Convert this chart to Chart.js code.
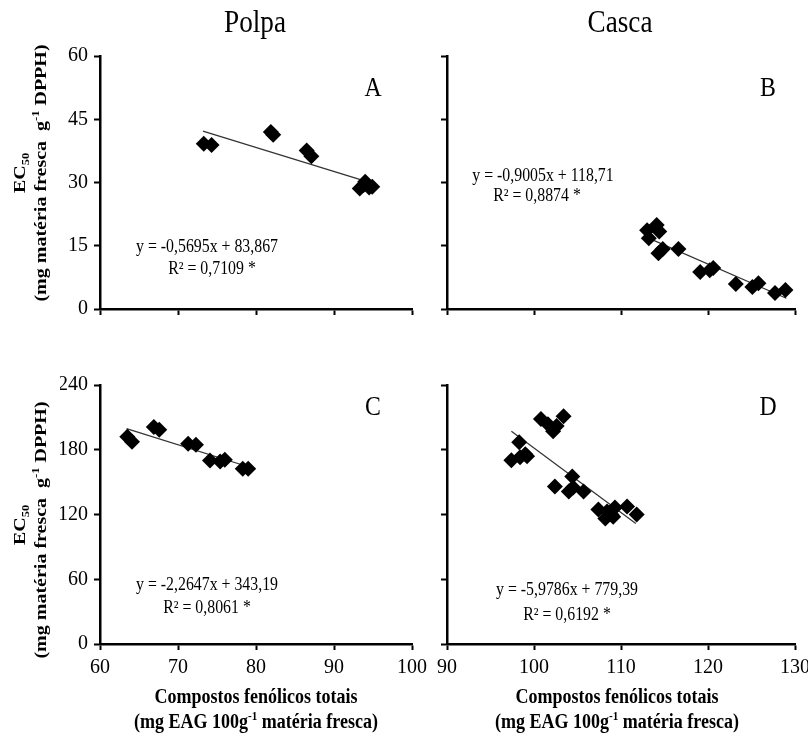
<!DOCTYPE html>
<html>
<head>
<meta charset="utf-8">
<script src="https://cdn.jsdelivr.net/npm/chart.js@4.4.0/dist/chart.umd.min.js"></script>
<style>
  html, body { margin: 0; padding: 0; background: #fff; overflow: hidden; }
  #wrap { position: relative; width: 808px; height: 741px; overflow: hidden; }
  #wrap canvas { position: absolute; left: 0; top: 0; }
</style>
</head>
<body>
<div id="wrap">
  <canvas id="chart-a" width="840" height="741"></canvas>
  <canvas id="chart-b" width="840" height="741"></canvas>
  <canvas id="chart-c" width="840" height="741"></canvas>
  <canvas id="chart-d" width="840" height="741"></canvas>
</div>
<script>
// --- Eixos ---
const polpaXTicks = [60, 70, 80, 90, 100];
const cascaXTicks = [90, 100, 110, 120, 130];
const topYTicks = [0, 15, 30, 45, 60];
const bottomYTicks = [0, 60, 120, 180, 240];

// --- A: Polpa (EC50 0-60) ---
const polpaAX = [73.3, 74.3, 81.9, 82.2, 86.5, 87.1, 93.3, 93.8, 94.0, 94.5, 94.9];
const polpaAY = [39.2, 38.9, 42.0, 41.3, 37.6, 36.2, 28.6, 29.4, 30.2, 28.8, 29.0];

// --- B: Casca (EC50 0-60) ---
const cascaBX = [113.0, 113.2, 114.1, 114.4, 114.3, 114.8, 116.6, 119.1, 120.2, 120.6, 123.2, 125.1, 125.8, 127.7, 128.9];
const cascaBY = [18.7, 16.8, 19.9, 18.4, 13.2, 14.2, 14.2, 8.8, 9.2, 9.7, 5.9, 5.2, 6.1, 3.8, 4.5];

// --- C: Polpa (EC50 0-240) ---
const polpaCX = [63.5, 64.1, 66.9, 67.6, 71.3, 72.3, 74.1, 75.4, 76.0, 78.3, 79.0];
const polpaCY = [192, 187.4, 201, 198.5, 185.6, 184.6, 170, 169, 170.8, 162.5, 162.5];

// --- D: Casca (EC50 0-240) ---
const cascaDX = [97.4, 98.3, 98.4, 99.0, 99.2, 100.8, 101.6, 102.2, 102.6, 103.4, 102.4, 104.4, 104.0, 104.5, 105.7, 107.4, 108.2, 108.4, 108.9, 109.3, 109.1, 110.7, 111.8];
const cascaDY = [170.2, 187, 173, 175.8, 174, 208.4, 203.7, 197.2, 201.9, 211, 146, 155.3, 141.4, 145, 141.4, 124.7, 116.3, 122.8, 120, 126.5, 118, 127.4, 120];

// --- Regressões (coeficientes das equações) ---
const slopes = [-0.5695, -0.9005, -2.2647, -5.9786];
const intercepts = [83.867, 118.71, 343.19, 779.39];
const trendStart = [73.2, 113.1, 63.4, 97.4];
const trendEnd = [93.7, 129.0, 79.0, 111.7];

const SERIF = "'Liberation Serif', 'Times New Roman', serif";
const CANVAS_W = 840, CANVAS_H = 741;

// Desenha texto com sobrescrito/subscrito, centrado em (x, y)
function drawRich(ctx, parts, x, y, o) {
  const size = o.size;
  const weight = o.bold ? 'bold ' : '';
  ctx.save();
  ctx.translate(x, y);
  if (o.rotate) ctx.rotate(-Math.PI / 2);
  ctx.scale(o.sx || 1, o.sy || 1);
  ctx.fillStyle = '#000';
  ctx.textBaseline = 'alphabetic';
  ctx.textAlign = 'left';
  let total = 0;
  const widths = parts.map(p => {
    const s = p[1] ? size * 0.62 : size;
    ctx.font = `${weight}${s}px ${SERIF}`;
    const w = ctx.measureText(p[0]).width;
    total += w;
    return w;
  });
  let cx = -total / 2;
  parts.forEach((p, i) => {
    const s = p[1] ? size * 0.62 : size;
    ctx.font = `${weight}${s}px ${SERIF}`;
    let dy = 0;
    if (p[1] === 'sup') dy = -size * 0.4;
    if (p[1] === 'sub') dy = size * 0.22;
    ctx.fillText(p[0], cx, dy);
    cx += widths[i];
  });
  ctx.restore();
}

const yTitle1 = [['EC', ''], ['50', 'sub']];
const yTitle2 = [['(mg matéria fresca  g', ''], ['-1', 'sup'], [' DPPH)', '']];
const xTitle1 = [['Compostos fenólicos totais', '']];
const xTitle2 = [['(mg EAG 100g', ''], ['-1', 'sup'], [' matéria fresca)', '']];

function textPlugin(texts) {
  return {
    id: 'panelTexts',
    afterDraw(chart) {
      const ctx = chart.ctx;
      texts.forEach(t => drawRich(ctx, t.parts, t.x, t.y, t));
    }
  };
}

function makePanel(id, cfg) {
  const ctx = document.getElementById(id).getContext('2d');
  const a = cfg.area;
  const yW = 40, xH = 30;
  const points = cfg.xs.map((x, i) => ({ x, y: cfg.ys[i] }));
  const k = cfg.fit;
  const trend = [trendStart[k], trendEnd[k]].map(x => ({ x, y: slopes[k] * x + intercepts[k] }));

  return new Chart(ctx, {
    type: 'scatter',
    data: {
      datasets: [
        {
          type: 'line',
          data: trend,
          borderColor: '#333',
          borderWidth: 1.2,
          pointRadius: 0,
          fill: false,
          order: 2
        },
        {
          data: points,
          pointStyle: 'rectRot',
          pointRadius: 8,
          backgroundColor: '#000',
          borderColor: '#000',
          borderWidth: 0,
          order: 1
        }
      ]
    },
    options: {
      responsive: false,
      animation: false,
      events: [],
      layout: {
        padding: { left: a.left - yW, right: CANVAS_W - a.right, top: a.top, bottom: CANVAS_H - a.bottom - xH }
      },
      plugins: { legend: { display: false }, tooltip: { enabled: false } },
      scales: {
        x: {
          type: 'linear',
          min: cfg.xTicks[0],
          max: cfg.xTicks[cfg.xTicks.length - 1],
          afterBuildTicks: s => { s.ticks = cfg.xTicks.map(v => ({ value: v })); },
          afterFit: s => { s.height = xH; },
          ticks: { display: cfg.showX, color: '#000', padding: 6, maxRotation: 0, font: { family: SERIF, size: 20 } },
          grid: { drawOnChartArea: false, drawTicks: true, tickLength: 6, tickWidth: 2, color: '#000' },
          border: { display: true, color: '#000', width: 2.5 }
        },
        y: {
          type: 'linear',
          min: cfg.yTicks[0],
          max: cfg.yTicks[cfg.yTicks.length - 1],
          afterBuildTicks: s => { s.ticks = cfg.yTicks.map(v => ({ value: v })); },
          afterFit: s => { s.width = yW; },
          ticks: { display: cfg.showY, color: '#000', padding: 6, font: { family: SERIF, size: 20 } },
          grid: { drawOnChartArea: false, drawTicks: true, tickLength: 6, tickWidth: 2, color: '#000' },
          border: { display: true, color: '#000', width: 2.5 }
        }
      }
    },
    plugins: [textPlugin(cfg.texts)]
  });
}

const eqFont = { size: 18, sx: 0.88 };
const letterFont = { size: 28, sx: 0.85 };
const headFont = { size: 32, sx: 0.85 };
const yTitleFont = { size: 20, bold: true, rotate: true, sy: 0.85 };
const xTitleFont = { size: 20, bold: true, sx: 0.9 };

makePanel('chart-a', {
  area: { left: 100, right: 412, top: 56, bottom: 309 },
  xs: polpaAX, ys: polpaAY, fit: 0,
  xTicks: polpaXTicks, yTicks: topYTicks, showX: false, showY: true,
  texts: [
    { parts: [['Polpa', '']], x: 255, y: 32, ...headFont },
    { parts: [['A', '']], x: 373, y: 96, ...letterFont },
    { parts: [['y = -0,5695x + 83,867', '']], x: 207, y: 252, ...eqFont },
    { parts: [['R² = 0,7109 *', '']], x: 212, y: 274, ...eqFont },
    { parts: yTitle1, x: 25, y: 173, ...yTitleFont },
    { parts: yTitle2, x: 46, y: 173, ...yTitleFont }
  ]
});

makePanel('chart-b', {
  area: { left: 447, right: 795, top: 56, bottom: 309 },
  xs: cascaBX, ys: cascaBY, fit: 1,
  xTicks: cascaXTicks, yTicks: topYTicks, showX: false, showY: false,
  texts: [
    { parts: [['Casca', '']], x: 620, y: 32, ...headFont },
    { parts: [['B', '']], x: 768, y: 96, ...letterFont },
    { parts: [['y = -0,9005x + 118,71', '']], x: 543, y: 181, ...eqFont },
    { parts: [['R² = 0,8874 *', '']], x: 537, y: 201, ...eqFont }
  ]
});

makePanel('chart-c', {
  area: { left: 100, right: 412, top: 385, bottom: 644 },
  xs: polpaCX, ys: polpaCY, fit: 2,
  xTicks: polpaXTicks, yTicks: bottomYTicks, showX: true, showY: true,
  texts: [
    { parts: [['C', '']], x: 373, y: 415, ...letterFont },
    { parts: [['y = -2,2647x + 343,19', '']], x: 207, y: 590, ...eqFont },
    { parts: [['R² = 0,8061 *', '']], x: 207, y: 613, ...eqFont },
    { parts: yTitle1, x: 25, y: 525, ...yTitleFont },
    { parts: yTitle2, x: 46, y: 530, ...yTitleFont },
    { parts: xTitle1, x: 256, y: 703, ...xTitleFont },
    { parts: xTitle2, x: 256, y: 728, ...xTitleFont }
  ]
});

makePanel('chart-d', {
  area: { left: 447, right: 795, top: 385, bottom: 644 },
  xs: cascaDX, ys: cascaDY, fit: 3,
  xTicks: cascaXTicks, yTicks: bottomYTicks, showX: true, showY: false,
  texts: [
    { parts: [['D', '']], x: 768, y: 415, ...letterFont },
    { parts: [['y = -5,9786x + 779,39', '']], x: 567, y: 595, ...eqFont },
    { parts: [['R² = 0,6192 *', '']], x: 567, y: 620, ...eqFont },
    { parts: xTitle1, x: 617, y: 703, ...xTitleFont },
    { parts: xTitle2, x: 617, y: 728, ...xTitleFont }
  ]
});
</script>
</body>
</html>
